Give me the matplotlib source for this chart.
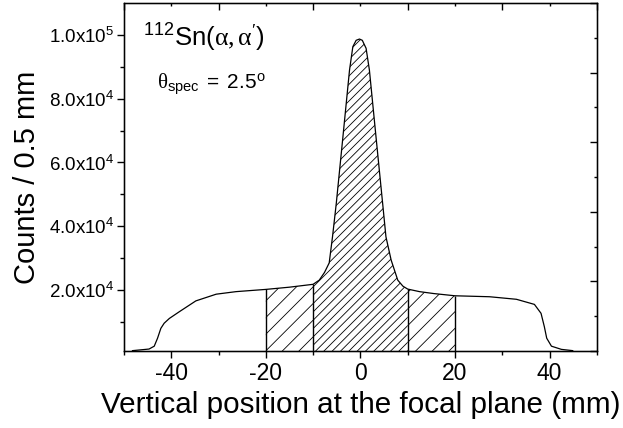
import numpy as np
import matplotlib
matplotlib.use("Agg")
from matplotlib import pyplot as plt
from matplotlib.ticker import FixedLocator, MultipleLocator, FuncFormatter

plt.rcParams['font.family'] = ['Liberation Sans', 'DejaVu Sans']
plt.rcParams['mathtext.fontset'] = 'custom'
plt.rcParams['mathtext.rm'] = 'Liberation Serif'
plt.rcParams['mathtext.it'] = 'Liberation Serif:italic'
plt.rcParams['mathtext.sf'] = 'Liberation Sans'
plt.rcParams['axes.unicode_minus'] = False
plt.rcParams['hatch.linewidth'] = 0.6

# spectrum (position in mm, counts / 0.5 mm)
pos = [-48.2, -44.7, -43.6, -42.9, -42.2, -41.5, -40.4, -38.3, -34.8, -30.5,
       -26.3, -20.0, -15.0, -10.0, -8.7, -7.6, -6.6, -5.9, -5.1, -4.4,
       -3.7, -3.0, -2.3, -1.6, -0.9, -0.2, 0.4, 1.2, 1.9, 2.6,
       3.3, 4.0, 4.7, 5.4, 6.5, 7.9, 9.0, 10.0, 12.5, 15.5,
       20.0, 27.3, 33.0, 36.8, 38.2, 38.9, 39.4, 40.4, 42.5, 44.9]
counts = [1000, 1500, 2400, 4900, 8000, 9600, 11100, 13200, 16600, 18700,
          19500, 20200, 20900, 21800, 23100, 25500, 28500, 36700, 47200, 57600,
          68000, 78500, 89000, 96300, 98300, 98700, 98300, 95800, 89000, 78500,
          68000, 57600, 47200, 36700, 29400, 23100, 21200, 20300, 19500, 18900,
          18200, 17900, 17100, 15500, 12700, 8500, 4900, 2400, 1400, 1000]

gates_outer = [(-20, -10), (10, 20)]
gate_inner = (-10, 10)
gate_edges = [-20, -10, 10, 20]

y_major = [20000, 40000, 60000, 80000, 100000]
y_labels = ['2.0x10^{4}', '4.0x10^{4}', '6.0x10^{4}', '8.0x10^{4}', '1.0x10^{5}']

x = np.array(pos)
y = np.array(counts)

fig = plt.figure(figsize=(6.23, 4.28), dpi=100)
ax = fig.add_axes([0.199, 0.180, 0.759, 0.813])

ax.plot(x, y, color='black', lw=0.9, zorder=3)

for lo, hi in gates_outer:
    m = (x >= lo) & (x <= hi)
    ax.fill_between(x[m], 0, y[m], facecolor='white', edgecolor='black',
                    hatch='//', linewidth=0, zorder=2)
m = (x >= gate_inner[0]) & (x <= gate_inner[1])
ax.fill_between(x[m], 0, y[m], facecolor='white', edgecolor='black',
                hatch='////', linewidth=0, zorder=2)
for e in gate_edges:
    ax.vlines(e, 0, np.interp(e, x, y), color='black', lw=1.0, zorder=3)

ax.set_xlim(-50, 50)
ax.set_ylim(900, 110000)

ax.xaxis.set_major_locator(FixedLocator([-40, -20, 0, 20, 40]))
ax.xaxis.set_minor_locator(FixedLocator([-50, -30, -10, 10, 30, 50]))
ax.yaxis.set_major_locator(FixedLocator(y_major))
ax.yaxis.set_minor_locator(FixedLocator([10000, 30000, 50000, 70000, 90000]))
ax.yaxis.set_major_formatter(FuncFormatter(
    lambda v, p: r'$\mathregular{' + y_labels[y_major.index(int(round(v)))] + '}$'))

ax.tick_params(axis='x', which='major', direction='out', length=5, width=1, labelsize=16.5, pad=3)
ax.tick_params(axis='x', which='minor', direction='out', length=3, width=1)
ax.tick_params(axis='y', which='major', direction='out', length=5, width=1, labelsize=13.5, pad=2)
ax.tick_params(axis='y', which='minor', direction='out', length=3, width=1)
for s in ax.spines.values():
    s.set_linewidth(1.0)

# mirrored frame ticks (top and right) in axes fractions
axt = ax.twiny()
axt.set_xlim(0, 1)
axt.xaxis.set_major_locator(MultipleLocator(0.2))
axt.xaxis.set_minor_locator(MultipleLocator(0.1))
axt.tick_params(axis='x', which='major', direction='in', length=5, width=1, labeltop=False)
axt.tick_params(axis='x', which='minor', direction='in', length=2.5, width=1)
axr = ax.twinx()
axr.set_ylim(0, 1)
axr.yaxis.set_major_locator(MultipleLocator(0.2))
axr.yaxis.set_minor_locator(MultipleLocator(0.1))
axr.tick_params(axis='y', which='major', direction='in', length=5, width=1, labelright=False)
axr.tick_params(axis='y', which='minor', direction='in', length=2.5, width=1)

ax.set_xlabel('Vertical position at the focal plane (mm)', fontsize=21.3, labelpad=4)
ax.set_ylabel('Counts / 0.5 mm', fontsize=21, labelpad=6)

ax.text(0.04, 0.875, r'$\mathregular{^{112}Sn(}\mathrm{α,α}^{\prime}\mathregular{)}$',
        transform=ax.transAxes, fontsize=18.5, va='baseline', ha='left')
ax.text(0.07, 0.75, r'$\mathrm{θ}_{\mathregular{spec}}\mathregular{\ =\ 2.5^{o}}$',
        transform=ax.transAxes, fontsize=15, va='baseline', ha='left')

fig.savefig('out.png', dpi=100)
